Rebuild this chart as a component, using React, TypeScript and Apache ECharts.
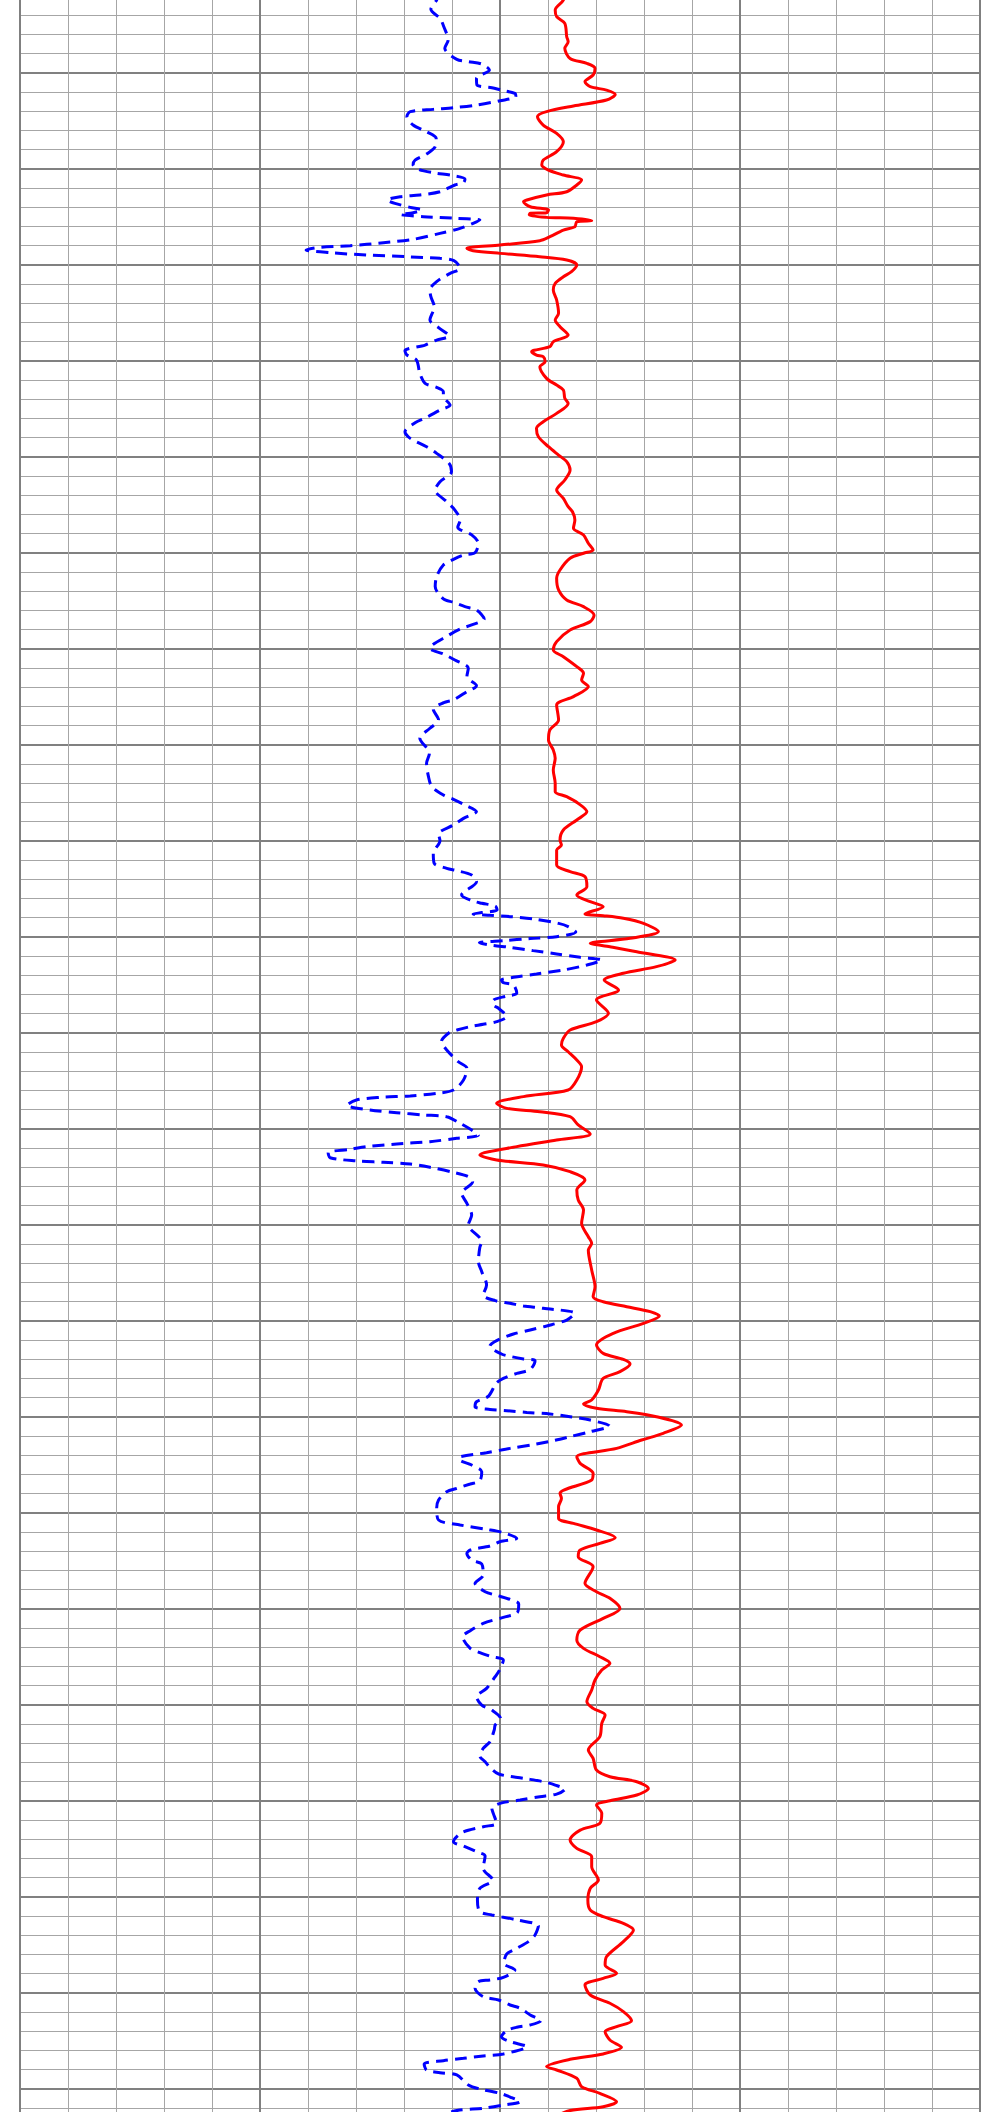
import React, { useEffect, useRef } from "react";
import * as echarts from "echarts";

// Depth axis (increasing downward) and curve-value axis (in chart divisions)
const depthMin = 1000;
const depthMax = 1230;
const depthMajorStep = 10;
const valueMin = 0;
const valueMax = 20;
const valueMajorStep = 5;

// [depth, value] pairs — red solid curve
const redCurve: [number, number][] = [
  [1001.5, 11.35], [1002.43, 11.32], [1003.47, 11.15], [1004.17, 11.18], [1004.86, 11.35],
  [1006.25, 11.39], [1006.77, 11.42], [1007.46, 11.35], [1008.51, 11.46], [1009.03, 11.81],
  [1009.55, 11.98], [1010.24, 11.94], [1010.94, 11.77], [1011.46, 11.88], [1011.81, 12.22],
  [1012.26, 12.4], [1012.85, 12.22], [1013.47, 11.53], [1014.06, 10.97], [1014.58, 10.78],
  [1015.45, 10.9], [1016.32, 11.18], [1017.19, 11.32], [1018.23, 11.18], [1019.1, 10.9],
  [1019.62, 10.87], [1020.14, 11.01], [1020.66, 11.32], [1021.18, 11.7], [1021.7, 11.6],
  [1022.4, 11.39], [1022.74, 10.97], [1023.26, 10.56], [1023.44, 10.49], [1023.96, 10.63],
  [1024.3, 11.01], [1024.58, 10.97], [1024.65, 10.63], [1024.83, 10.61], [1025.07, 10.97],
  [1025.17, 11.53], [1025.42, 11.91], [1025.52, 11.6], [1026.04, 11.56], [1026.39, 11.32],
  [1027.08, 11.04], [1027.5, 10.83], [1027.95, 10.0], [1028.3, 9.31], [1028.54, 9.44],
  [1028.82, 10.0], [1029.17, 10.83], [1029.51, 11.39], [1030.03, 11.6], [1030.73, 11.49],
  [1031.25, 11.32], [1031.94, 11.15], [1032.64, 11.11], [1033.68, 11.18], [1035.07, 11.22],
  [1035.77, 11.15], [1036.46, 11.25], [1037.33, 11.42], [1038.02, 11.11], [1038.54, 11.04],
  [1039.06, 10.66], [1039.41, 10.76], [1039.58, 10.9], [1040.11, 10.94], [1040.63, 10.83],
  [1041.84, 10.97], [1042.54, 11.18], [1043.06, 11.32], [1043.92, 11.35], [1044.45, 11.42],
  [1045.49, 11.18], [1046.36, 10.9], [1047.05, 10.76], [1047.92, 10.8], [1048.96, 11.01],
  [1049.83, 11.22], [1050.52, 11.39], [1051.39, 11.46], [1052.43, 11.35], [1053.47, 11.18],
  [1054.34, 11.32], [1055.21, 11.42], [1055.73, 11.51], [1056.59, 11.56], [1057.46, 11.53],
  [1058.15, 11.74], [1059.02, 11.84], [1059.72, 11.94], [1060.06, 11.74], [1060.58, 11.46],
  [1061.8, 11.25], [1062.67, 11.18], [1063.88, 11.22], [1064.92, 11.39], [1065.62, 11.74],
  [1066.49, 11.96], [1067.18, 11.88], [1068.05, 11.46], [1069.26, 11.18], [1070.13, 11.11],
  [1070.83, 11.32], [1071.87, 11.6], [1072.56, 11.74], [1073.26, 11.7], [1073.95, 11.84],
  [1074.99, 11.53], [1075.86, 11.18], [1077.42, 11.22], [1078.46, 11.04], [1079.51, 11.01],
  [1080.55, 11.11], [1081.42, 11.15], [1082.63, 11.11], [1084.02, 11.15], [1084.89, 11.15],
  [1085.41, 11.39], [1086.11, 11.63], [1086.97, 11.81], [1087.84, 11.6], [1088.88, 11.32],
  [1089.93, 11.25], [1090.45, 11.28], [1090.97, 11.18], [1092.53, 11.18], [1093.22, 11.46],
  [1093.74, 11.77], [1094.79, 11.81], [1095.65, 11.6], [1096.35, 11.88], [1096.87, 12.15],
  [1097.63, 11.77], [1097.81, 12.15], [1098.08, 12.57], [1098.61, 12.99], [1099.47, 13.3],
  [1100.17, 12.71], [1100.69, 11.88], [1101.04, 12.29], [1101.56, 12.85], [1102.43, 13.65],
  [1103.12, 13.26], [1103.81, 12.57], [1104.51, 12.17], [1105.55, 12.47], [1106.59, 12.01],
  [1107.98, 12.26], [1108.85, 12.01], [1109.72, 11.46], [1110.59, 11.32], [1111.28, 11.28],
  [1111.98, 11.42], [1112.84, 11.6], [1113.54, 11.7], [1114.93, 11.6], [1115.97, 11.42],
  [1116.66, 10.49], [1117.36, 9.93], [1117.88, 10.14], [1118.23, 10.83], [1118.75, 11.46],
  [1119.61, 11.63], [1120.55, 11.88], [1121.18, 11.18], [1121.87, 10.35], [1122.74, 9.58],
  [1123.26, 9.93], [1123.78, 10.9], [1124.48, 11.46], [1125.34, 11.77], [1126.39, 11.6],
  [1127.43, 11.63], [1128.47, 11.74], [1129.86, 11.7], [1131.25, 11.84], [1131.94, 11.91],
  [1132.64, 11.84], [1134.72, 11.91], [1136.46, 11.98], [1137.5, 11.94], [1138.02, 12.15],
  [1138.54, 12.64], [1139.06, 13.13], [1139.51, 13.32], [1140.28, 12.99], [1141.32, 12.36],
  [1142.53, 12.01], [1143.4, 12.15], [1144.03, 12.57], [1144.51, 12.71], [1145.31, 12.5],
  [1146.01, 12.15], [1147.22, 12.05], [1148.26, 11.91], [1148.68, 11.74], [1149.13, 12.01],
  [1149.48, 12.64], [1150.0, 13.26], [1150.87, 13.78], [1151.73, 13.4], [1152.43, 12.95],
  [1153.3, 12.43], [1154.17, 11.6], [1154.86, 11.67], [1155.9, 11.94], [1156.6, 11.91],
  [1157.99, 11.25], [1158.51, 11.28], [1159.37, 11.22], [1160.59, 11.22], [1161.11, 11.53],
  [1161.8, 12.01], [1162.6, 12.4], [1163.19, 12.08], [1163.89, 11.67], [1164.58, 11.63],
  [1165.62, 11.94], [1167.36, 11.77], [1168.23, 12.01], [1168.92, 12.29], [1169.97, 12.5],
  [1171.01, 12.15], [1172.22, 11.67], [1173.26, 11.6], [1174.13, 11.74], [1175.0, 12.08],
  [1175.69, 12.29], [1176.39, 12.12], [1177.43, 11.98], [1178.47, 11.91], [1179.69, 11.81],
  [1180.38, 11.94], [1181.08, 12.19], [1181.95, 12.12], [1183.33, 12.08], [1184.72, 11.84],
  [1185.59, 11.94], [1186.81, 12.01], [1187.5, 12.29], [1188.02, 12.85], [1188.72, 13.09],
  [1189.41, 12.85], [1190.0, 12.29], [1190.45, 12.01], [1191.32, 12.12], [1192.36, 12.08],
  [1193.06, 11.67], [1194.1, 11.46], [1194.97, 11.6], [1195.83, 11.91], [1196.88, 11.91],
  [1198.26, 12.05], [1199.13, 11.88], [1200.35, 11.83], [1201.38, 11.88], [1202.08, 12.15],
  [1202.77, 12.57], [1203.47, 12.78], [1204.68, 12.57], [1206.24, 12.22], [1207.11, 12.19],
  [1207.98, 12.43], [1208.5, 12.15], [1209.2, 11.77], [1210.24, 11.88], [1211.1, 12.29],
  [1211.97, 12.57], [1212.91, 12.74], [1213.54, 12.43], [1214.06, 12.19], [1214.93, 12.29],
  [1215.69, 12.53], [1216.38, 12.15], [1216.94, 11.46], [1217.7, 10.97], [1218.05, 11.18],
  [1218.92, 11.6], [1219.79, 11.7], [1220.48, 12.08], [1221.35, 12.43], [1221.87, 12.15],
  [1222.28, 11.46], [1223.0, 11.1],
];

// [depth, value] pairs — blue dashed curve
const blueCurve: [number, number][] = [
  [1001.5, 8.75], [1002.43, 8.68], [1003.4, 8.56], [1004.34, 8.75], [1005.21, 8.83],
  [1006.6, 8.92], [1007.46, 8.85], [1008.61, 9.1], [1008.85, 9.34], [1009.1, 9.62],
  [1009.72, 9.78], [1010.59, 9.51], [1011.28, 9.52], [1011.56, 9.83], [1011.81, 10.03],
  [1012.15, 10.31], [1012.5, 10.33], [1012.92, 10.0], [1013.37, 9.51], [1013.65, 9.03],
  [1013.82, 8.61], [1014.06, 8.13], [1014.58, 8.06], [1015.45, 8.19], [1016.15, 8.47],
  [1016.84, 8.67], [1017.71, 8.65], [1018.47, 8.47], [1019.1, 8.23], [1019.62, 8.19],
  [1020.07, 8.3], [1020.42, 8.61], [1020.73, 9.03], [1021.08, 9.27], [1021.46, 9.24],
  [1021.7, 9.06], [1022.4, 8.75], [1022.74, 8.33], [1022.92, 7.92], [1023.26, 7.65],
  [1023.61, 7.81], [1024.03, 8.13], [1024.3, 8.37], [1024.58, 8.19], [1024.76, 7.92],
  [1025.0, 8.4], [1025.17, 9.1], [1025.35, 9.58], [1025.69, 9.44], [1026.22, 9.17],
  [1026.74, 8.75], [1027.36, 8.19], [1027.71, 7.57], [1028.02, 6.88], [1028.19, 6.25],
  [1028.47, 5.96], [1028.75, 6.46], [1028.99, 7.22], [1029.17, 8.06], [1029.34, 8.75],
  [1029.58, 9.04], [1030.38, 9.17], [1030.9, 8.96], [1031.77, 8.68], [1032.64, 8.54],
  [1033.33, 8.56], [1034.38, 8.63], [1035.77, 8.54], [1036.56, 8.72], [1037.43, 8.94],
  [1037.85, 8.68], [1038.37, 8.44], [1038.96, 8.02], [1039.41, 8.06], [1039.93, 8.26],
  [1041.32, 8.33], [1042.36, 8.44], [1042.78, 8.68], [1043.23, 8.82], [1043.68, 8.82],
  [1044.62, 8.96], [1045.14, 8.75], [1045.9, 8.47], [1046.46, 8.23], [1047.4, 8.02],
  [1048.09, 8.13], [1048.96, 8.47], [1049.65, 8.68], [1050.7, 8.94], [1051.56, 8.99],
  [1052.6, 8.75], [1053.47, 8.65], [1054.69, 8.89], [1055.56, 9.06], [1056.59, 9.17],
  [1057.35, 9.12], [1058.15, 9.41], [1059.02, 9.55], [1059.99, 9.48], [1060.24, 9.24],
  [1060.69, 9.03], [1061.28, 8.82], [1062.49, 8.68], [1063.53, 8.65], [1064.82, 8.82],
  [1065.17, 9.03], [1065.62, 9.27], [1065.97, 9.51], [1066.9, 9.67], [1067.53, 9.41],
  [1067.94, 9.17], [1068.57, 8.94], [1069.96, 8.54], [1070.55, 8.82], [1071.17, 9.06],
  [1072.04, 9.34], [1072.91, 9.31], [1073.85, 9.51], [1074.47, 9.31], [1075.34, 9.03],
  [1075.62, 8.83], [1076.31, 8.61], [1077.42, 8.72], [1078.29, 8.54], [1079.33, 8.33],
  [1080.9, 8.53], [1081.94, 8.47], [1083.33, 8.51], [1084.37, 8.58], [1085.24, 8.82],
  [1085.69, 9.03], [1086.28, 9.27], [1086.97, 9.51], [1087.67, 9.24], [1088.36, 9.03],
  [1089.3, 8.72], [1090.0, 8.75], [1091.31, 8.61], [1092.36, 8.63], [1092.88, 8.89],
  [1093.12, 9.1], [1093.57, 9.41], [1094.27, 9.51], [1095.65, 9.2], [1096.24, 9.41],
  [1096.52, 9.62], [1096.8, 9.9], [1097.22, 9.94], [1097.49, 9.62], [1097.63, 9.44],
  [1097.77, 9.79], [1097.91, 10.21], [1098.15, 10.69], [1098.61, 11.22], [1098.95, 11.42],
  [1099.51, 11.58], [1100.0, 11.18], [1100.2, 10.63], [1100.41, 10.07], [1100.62, 9.57],
  [1100.86, 9.79], [1101.11, 10.21], [1101.45, 10.69], [1101.8, 11.18], [1102.15, 11.67],
  [1102.43, 12.12], [1102.95, 11.81], [1103.47, 11.32], [1103.88, 10.76], [1104.23, 10.28],
  [1104.51, 10.03], [1104.79, 10.07], [1105.03, 10.28], [1105.9, 10.35], [1106.18, 10.14],
  [1106.66, 9.86], [1107.11, 9.86], [1107.46, 9.97], [1108.33, 10.14], [1108.85, 9.93],
  [1109.13, 9.65], [1109.37, 9.38], [1109.72, 9.1], [1110.0, 8.94], [1110.93, 8.78],
  [1111.8, 8.89], [1113.02, 9.13], [1113.71, 9.31], [1114.93, 9.24], [1115.97, 9.03],
  [1116.32, 8.68], [1116.59, 8.13], [1116.73, 7.5], [1117.01, 7.01], [1117.56, 6.81],
  [1118.05, 7.29], [1118.33, 7.85], [1118.57, 8.4], [1118.75, 8.89], [1119.44, 9.17],
  [1120.14, 9.41], [1120.69, 9.55], [1121.0, 9.1], [1121.35, 8.54], [1121.59, 7.85],
  [1121.87, 7.22], [1122.15, 6.88], [1122.5, 6.42], [1123.02, 6.46], [1123.36, 7.01],
  [1123.5, 7.57], [1123.68, 8.13], [1124.02, 8.54], [1124.55, 9.03], [1125.0, 9.34],
  [1125.52, 9.43], [1126.73, 9.2], [1127.78, 9.31], [1128.99, 9.41], [1130.03, 9.34],
  [1131.77, 9.62], [1132.36, 9.58], [1133.85, 9.55], [1134.89, 9.62], [1136.28, 9.72],
  [1137.32, 9.65], [1137.91, 9.9], [1138.19, 10.21], [1138.47, 10.49], [1138.71, 10.9],
  [1139.23, 11.56], [1139.93, 11.39], [1140.55, 10.97], [1140.97, 10.63], [1141.39, 10.28],
  [1142.08, 9.93], [1142.64, 9.79], [1143.47, 10.03], [1143.75, 10.24], [1143.99, 10.49],
  [1144.16, 10.73], [1145.07, 10.63], [1145.49, 10.35], [1146.01, 10.07], [1146.53, 9.92],
  [1147.85, 9.76], [1148.44, 9.51], [1148.96, 9.48], [1149.24, 9.79], [1149.37, 10.14],
  [1149.55, 10.56], [1149.72, 11.04], [1150.0, 11.46], [1150.35, 11.88], [1150.97, 12.28],
  [1151.56, 11.88], [1152.08, 11.46], [1152.45, 11.15], [1152.85, 10.76], [1153.3, 10.21],
  [1153.75, 9.72], [1154.17, 9.17], [1154.44, 9.15], [1155.03, 9.41], [1155.73, 9.62],
  [1156.67, 9.58], [1157.01, 9.38], [1157.46, 9.1], [1157.81, 8.89], [1158.68, 8.72],
  [1159.55, 8.68], [1160.76, 8.72], [1161.28, 9.17], [1161.74, 9.72], [1162.08, 10.07],
  [1162.67, 10.35], [1163.02, 10.0], [1163.47, 9.79], [1163.89, 9.38], [1164.24, 9.31],
  [1164.93, 9.41], [1165.35, 9.62], [1166.49, 9.65], [1167.36, 9.48], [1168.23, 9.69],
  [1168.61, 9.93], [1169.03, 10.21], [1169.51, 10.39], [1170.42, 10.36], [1170.9, 10.07],
  [1171.53, 9.65], [1172.29, 9.38], [1172.92, 9.22], [1174.13, 9.38], [1174.58, 9.58],
  [1175.0, 9.83], [1175.35, 10.07], [1176.39, 9.99], [1177.08, 9.9], [1178.3, 9.72],
  [1179.17, 9.51], [1180.04, 9.62], [1180.56, 9.83], [1181.42, 10.01], [1182.12, 9.9],
  [1182.64, 9.88], [1183.85, 9.79], [1184.55, 9.65], [1185.35, 9.58], [1185.94, 9.69],
  [1186.53, 9.79], [1187.22, 9.97], [1187.67, 10.49], [1188.02, 10.9], [1188.37, 11.15],
  [1188.82, 11.35], [1189.31, 11.18], [1189.58, 10.83], [1189.93, 10.42], [1190.28, 10.0],
  [1190.8, 9.83], [1191.32, 9.86], [1192.36, 9.93], [1192.71, 9.65], [1193.33, 9.2],
  [1194.27, 9.03], [1194.72, 9.24], [1195.31, 9.51], [1195.76, 9.69], [1197.05, 9.65],
  [1198.26, 9.85], [1199.13, 9.58], [1200.35, 9.53], [1201.56, 9.58], [1201.9, 9.83],
  [1202.42, 10.35], [1203.05, 10.8], [1203.99, 10.73], [1204.68, 10.59], [1205.38, 10.35],
  [1205.97, 10.14], [1206.94, 10.08], [1207.63, 10.31], [1208.4, 10.07], [1208.67, 9.79],
  [1208.85, 9.55], [1209.54, 9.48], [1210.41, 9.65], [1210.76, 9.97], [1211.28, 10.21],
  [1211.62, 10.42], [1212.32, 10.63], [1212.91, 10.85], [1213.36, 10.63], [1213.6, 10.35],
  [1213.95, 10.14], [1214.58, 10.03], [1215.1, 10.21], [1215.62, 10.56], [1216.38, 10.07],
  [1216.59, 9.65], [1216.83, 9.24], [1217.08, 8.82], [1217.42, 8.42], [1218.05, 8.47],
  [1218.33, 8.75], [1218.57, 9.1], [1219.61, 9.34], [1220.03, 9.58], [1220.48, 10.0],
  [1220.93, 10.24], [1221.35, 10.42], [1221.7, 10.07], [1222.04, 9.65], [1222.28, 9.1],
  [1223.0, 8.6],
];

export default function App() {
  const ref = useRef<HTMLDivElement>(null);

  useEffect(() => {
    if (!ref.current) return;
    const chart = echarts.init(ref.current, null, { renderer: "svg" });
    const majorLine = { show: true, lineStyle: { color: "#808080", width: 2 } };
    const minorLine = { show: true, lineStyle: { color: "#a6a6a6", width: 1 } };
    chart.setOption({
      animation: false,
      backgroundColor: "#ffffff",
      grid: { left: 20, right: 19, top: 9.7, bottom: 12.3, containLabel: false },
      xAxis: {
        type: "value",
        min: valueMin,
        max: valueMax,
        interval: valueMajorStep,
        axisLine: { show: false },
        axisTick: { show: false },
        axisLabel: { show: false },
        splitLine: majorLine,
        minorTick: { show: false, splitNumber: 5 },
        minorSplitLine: minorLine,
      },
      yAxis: {
        type: "value",
        inverse: true,
        min: depthMin,
        max: depthMax,
        interval: depthMajorStep,
        axisLine: { show: false },
        axisTick: { show: false },
        axisLabel: { show: false },
        splitLine: majorLine,
        minorTick: { show: false, splitNumber: 5 },
        minorSplitLine: minorLine,
      },
      series: [
        {
          type: "line",
          name: "Red",
          data: redCurve.map(([d, v]) => [v, d]),
          showSymbol: false,
          symbol: "none",
          smooth: 0.3,
          lineStyle: { color: "#ff0000", width: 3 },
          z: 3,
        },
        {
          type: "line",
          name: "Blue",
          data: blueCurve.map(([d, v]) => [v, d]),
          showSymbol: false,
          symbol: "none",
          smooth: 0.3,
          lineStyle: { color: "#0000ff", width: 3, type: [12, 7] },
          z: 3,
        },
      ],
    });
    return () => chart.dispose();
  }, []);

  return (
    <div
      style={{
        position: "absolute",
        left: 0,
        top: 0,
        width: 999,
        height: 2112,
        overflow: "hidden",
        background: "#fff",
      }}
    >
      <div
        ref={ref}
        style={{ position: "absolute", left: 0, top: -33, width: 999, height: 2230 }}
      />
    </div>
  );
}
